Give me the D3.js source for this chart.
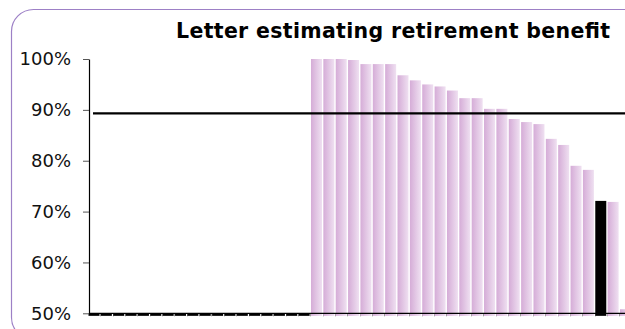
<!DOCTYPE html>
<html>
<head>
<meta charset="utf-8">
<script src="https://cdn.jsdelivr.net/npm/d3@7"></script>
<style>
  html, body { margin: 0; padding: 0; background: #fff; }
  svg { display: block; }
</style>
</head>
<body>
<svg id="chart" width="625" height="329"></svg>
<script>
// Share of respondents (%), one bar per country, sorted
const values = [
  50, 50, 50, 50, 50, 50, 50, 50, 50, 50, 50, 50, 50, 50, 50, 50, 50, 50,
  100, 100, 100, 99.8, 99, 99, 99, 96.8, 95.8, 95, 94.6, 93.8, 92.3, 92.3,
  90.2, 90.2, 88.2, 87.6, 87.2, 84.3, 83.1, 79.0, 78.2, 72.1, 71.9, 50.8
];
const highlighted = [41];          // bar drawn in solid black
const averageValue = 89.3;         // horizontal reference line
const yTicks = [50, 60, 70, 80, 90, 100];
const titleText = "Letter estimating retirement benefit";

const categories = values.map((_, i) => i);

const svg = d3.select("#chart");
const W = 625, H = 329;

// rounded frame
svg.append("rect")
  .attr("x", 11.5).attr("y", 9.5)
  .attr("width", 640).attr("height", 330)
  .attr("rx", 22).attr("ry", 22)
  .attr("fill", "none")
  .attr("stroke", "#9d80c6")
  .attr("stroke-width", 1.2);

const x = d3.scaleBand()
  .domain(categories)
  .range([88.5, 631])
  .paddingInner(0.11)
  .paddingOuter(0)
  .align(0);

const y = d3.scaleLinear()
  .domain([50, 100])
  .range([313.3, 59]);

const baseline = 49.5;  // bars start a touch under the axis

// bar gradient
const defs = svg.append("defs");
const grad = defs.append("linearGradient")
  .attr("id", "barGrad")
  .attr("x1", "0%").attr("x2", "100%").attr("y1", "0%").attr("y2", "0%");
grad.append("stop").attr("offset", "0%").attr("stop-color", "#d5acd7");
grad.append("stop").attr("offset", "100%").attr("stop-color", "#efe0f1");

// x-axis minor ticks between bars
svg.append("g")
  .selectAll("line")
  .data(categories)
  .join("line")
  .attr("x1", d => Math.round(x(d) + x.bandwidth() + x.step() * x.paddingInner() / 2) + 0.5)
  .attr("x2", d => Math.round(x(d) + x.bandwidth() + x.step() * x.paddingInner() / 2) + 0.5)
  .attr("y1", y(50))
  .attr("y2", y(50) + 3)
  .attr("stroke", "#9a9a9a")
  .attr("stroke-width", 1);

// bars
svg.append("g")
  .selectAll("rect")
  .data(values)
  .join("rect")
  .attr("x", (d, i) => x(i))
  .attr("width", x.bandwidth())
  .attr("y", d => y(d))
  .attr("height", d => y(baseline) - y(d))
  .attr("fill", (d, i) => (highlighted.includes(i) || d <= 50) ? "#000" : "url(#barGrad)");

// x axis line
svg.append("line")
  .attr("x1", 89).attr("x2", W)
  .attr("y1", y(50)).attr("y2", y(50))
  .attr("stroke", "#000").attr("stroke-width", 1.2);

// reference line
svg.append("line")
  .attr("x1", 93).attr("x2", W)
  .attr("y1", y(averageValue)).attr("y2", y(averageValue))
  .attr("stroke", "#000").attr("stroke-width", 2.4);

// y axis
const yAxis = d3.axisLeft(y)
  .tickValues(yTicks)
  .tickSize(6)
  .tickSizeOuter(0)
  .tickPadding(12)
  .tickFormat(d => d + "%");

const gy = svg.append("g")
  .attr("transform", "translate(89,0)")
  .call(yAxis);
gy.select(".domain").attr("stroke", "#000").attr("stroke-width", 1.2);
gy.selectAll(".tick line").attr("stroke", "#555");
gy.selectAll(".tick text")
  .attr("font-family", "'DejaVu Sans', Verdana, sans-serif")
  .attr("font-size", 18)
  .attr("fill", "#111");

// title
svg.append("text")
  .attr("x", 610).attr("y", 38)
  .attr("text-anchor", "end")
  .attr("font-family", "'DejaVu Sans', Verdana, sans-serif")
  .attr("font-weight", "bold")
  .attr("font-size", 20.5)
  .attr("textLength", 434)
  .attr("lengthAdjust", "spacing")
  .attr("fill", "#000")
  .text(titleText);
</script>
</body>
</html>
